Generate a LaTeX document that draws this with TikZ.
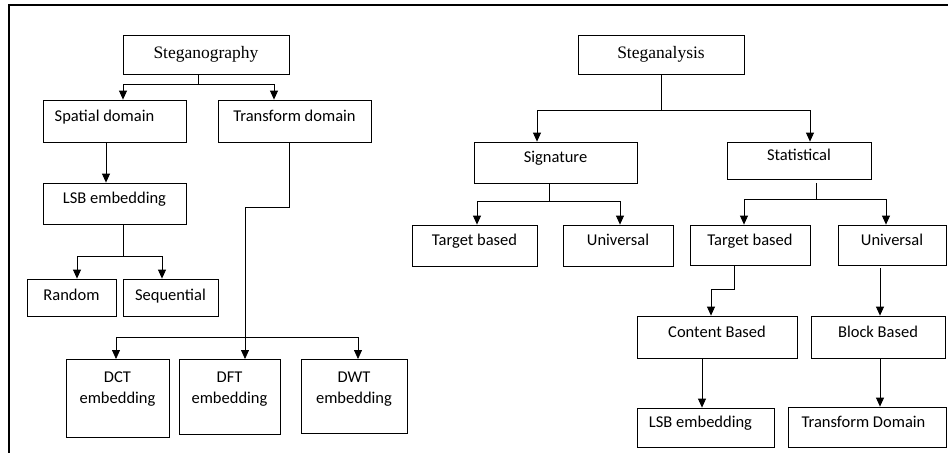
\documentclass[tikz,border=0pt]{standalone}
\usepackage{fontspec}
\setmainfont{Carlito}
\newfontfamily\titlefont{Liberation Serif}
\usetikzlibrary{arrows.meta}

\begin{document}
\begin{tikzpicture}[x=1pt, y=-1pt, line width=0.8pt, >={Triangle[width=8pt,length=9pt]},
  main/.style = {draw, inner sep=0pt, text height=7pt, text depth=7pt, font=\fontsize{16.5}{21}\selectfont},
  headbox/.style = {main, text height=10pt, text depth=2pt, font=\titlefont\fontsize{17.5}{21}\selectfont, minimum width=166pt, minimum height=39pt},
  twoline/.style = {main, align=center, anchor=north, text height=44pt}]
\useasboundingbox (0,0) rectangle (948,453);
\draw[line width=1.2pt] (948,5) -- (9,5) -- (9,453);
% steganography tree
\node[headbox] (1) at (206,54.5) {Steganography};
\node[main, minimum width=143pt, minimum height=42pt] (2) at (114.5,121) {Spatial domain\hspace*{20pt}};
\node[main, minimum width=153pt, minimum height=42pt] (3) at (294.5,121) {Transform domain};
\node[main, minimum width=143pt, minimum height=41pt] (4) at (114.5,203.5) {LSB embedding};
\node[main, text depth=1pt, minimum width=89pt, minimum height=37pt] (5) at (71.5,297.5) {Random};
\node[main, text depth=1pt, minimum width=95pt, minimum height=37pt] (6) at (170.5,297.5) {Sequential};
\node[twoline, minimum width=103pt, text depth=34pt] (7) at (117.5,359) {DCT\\embedding};
\node[twoline, minimum width=101pt, text depth=31pt] (8) at (229.5,359) {DFT\\embedding};
\node[twoline, minimum width=106pt, text depth=30pt] (9) at (354,359) {DWT\\embedding};
\draw ([xshift=-8pt]1.south) -- ++(0,10) coordinate (j1);
\draw[->] (j1) -| ([xshift=8.5pt]2.north);
\draw[->] (j1) -| ([xshift=-20.5pt]3.north);
\draw[->] ([xshift=-8.5pt]2.south) -- ([xshift=-8.5pt]4.north);
\draw ([xshift=8.5pt]4.south) -- ++(0,32) coordinate (j2);
\draw[->] (j2) -| ([xshift=5.5pt]5.north);
\draw[->] (j2) -| ([xshift=-8.5pt]6.north);
\draw[->] ([xshift=-5.5pt]3.south) -- ++(0,65) -| ([xshift=15.5pt]8.north);
\coordinate (j3) at (245,337);
\draw[->] (j3) -| ([xshift=-1.5pt]7.north);
\draw[->] (j3) -| ([xshift=4pt]9.north);
% steganalysis tree
\node[headbox] (10) at (661,54.5) {Steganalysis};
\node[main, minimum width=163pt, minimum height=41pt] (11) at (555.5,162.5) {Signature};
\node[main, minimum width=144pt, minimum height=37pt] (12) at (799,160.5) {Statistical};
\node[main, minimum width=125pt, minimum height=41pt] (13) at (474.5,245.5) {Target based};
\node[main, minimum width=110pt, minimum height=41pt] (14) at (618,245.5) {Universal};
\node[main, minimum width=120pt, minimum height=40pt] (15) at (750,245) {Target based};
\node[main, minimum width=108pt, minimum height=40pt] (16) at (892,245) {Universal};
\node[main, minimum width=160pt, minimum height=42pt] (17) at (717,337) {Content Based};
\node[main, minimum width=134pt, minimum height=42pt] (18) at (878,337) {Block Based};
\node[main, minimum width=137pt, minimum height=39pt] (19) at (705.5,427.5) {LSB embedding\hspace*{10pt}};
\node[main, minimum width=158pt, minimum height=40pt] (20) at (867,427) {Transform Domain\hspace*{7pt}};
\draw (10.south) -- ++(0,36) coordinate (j4);
\draw[->] (j4) -| ([xshift=-18.5pt]11.north);
\draw[->] (j4) -| ([xshift=11pt]12.north);
\draw ([xshift=-6.5pt]11.south) -- ++(0,18) coordinate (j5);
\draw[->] (j5) -| ([xshift=2.5pt]13.north);
\draw[->] (j5) -| ([xshift=2pt]14.north);
\draw ([xshift=17pt,yshift=-4pt]12.south) -- ++(0,16) coordinate (j6);
\draw[->] (j6) -| ([xshift=-6pt]15.north);
\draw[->] (j6) -| ([xshift=-6pt]16.north);
\draw[->] ([xshift=-16pt]15.south) -- ++(0,24) -| ([xshift=-6pt]17.north);
\draw[->] ([xshift=-12pt,yshift=-3pt]16.south) -- ([xshift=-12pt]16.south |- 18.north);
\draw[->] ([xshift=-15pt]17.south) -- ([xshift=-15pt]17.south |- 19.north);
\draw[->] ([xshift=2pt]18.south) -- ([xshift=2pt]18.south |- 20.north);
\end{tikzpicture}
\end{document}
